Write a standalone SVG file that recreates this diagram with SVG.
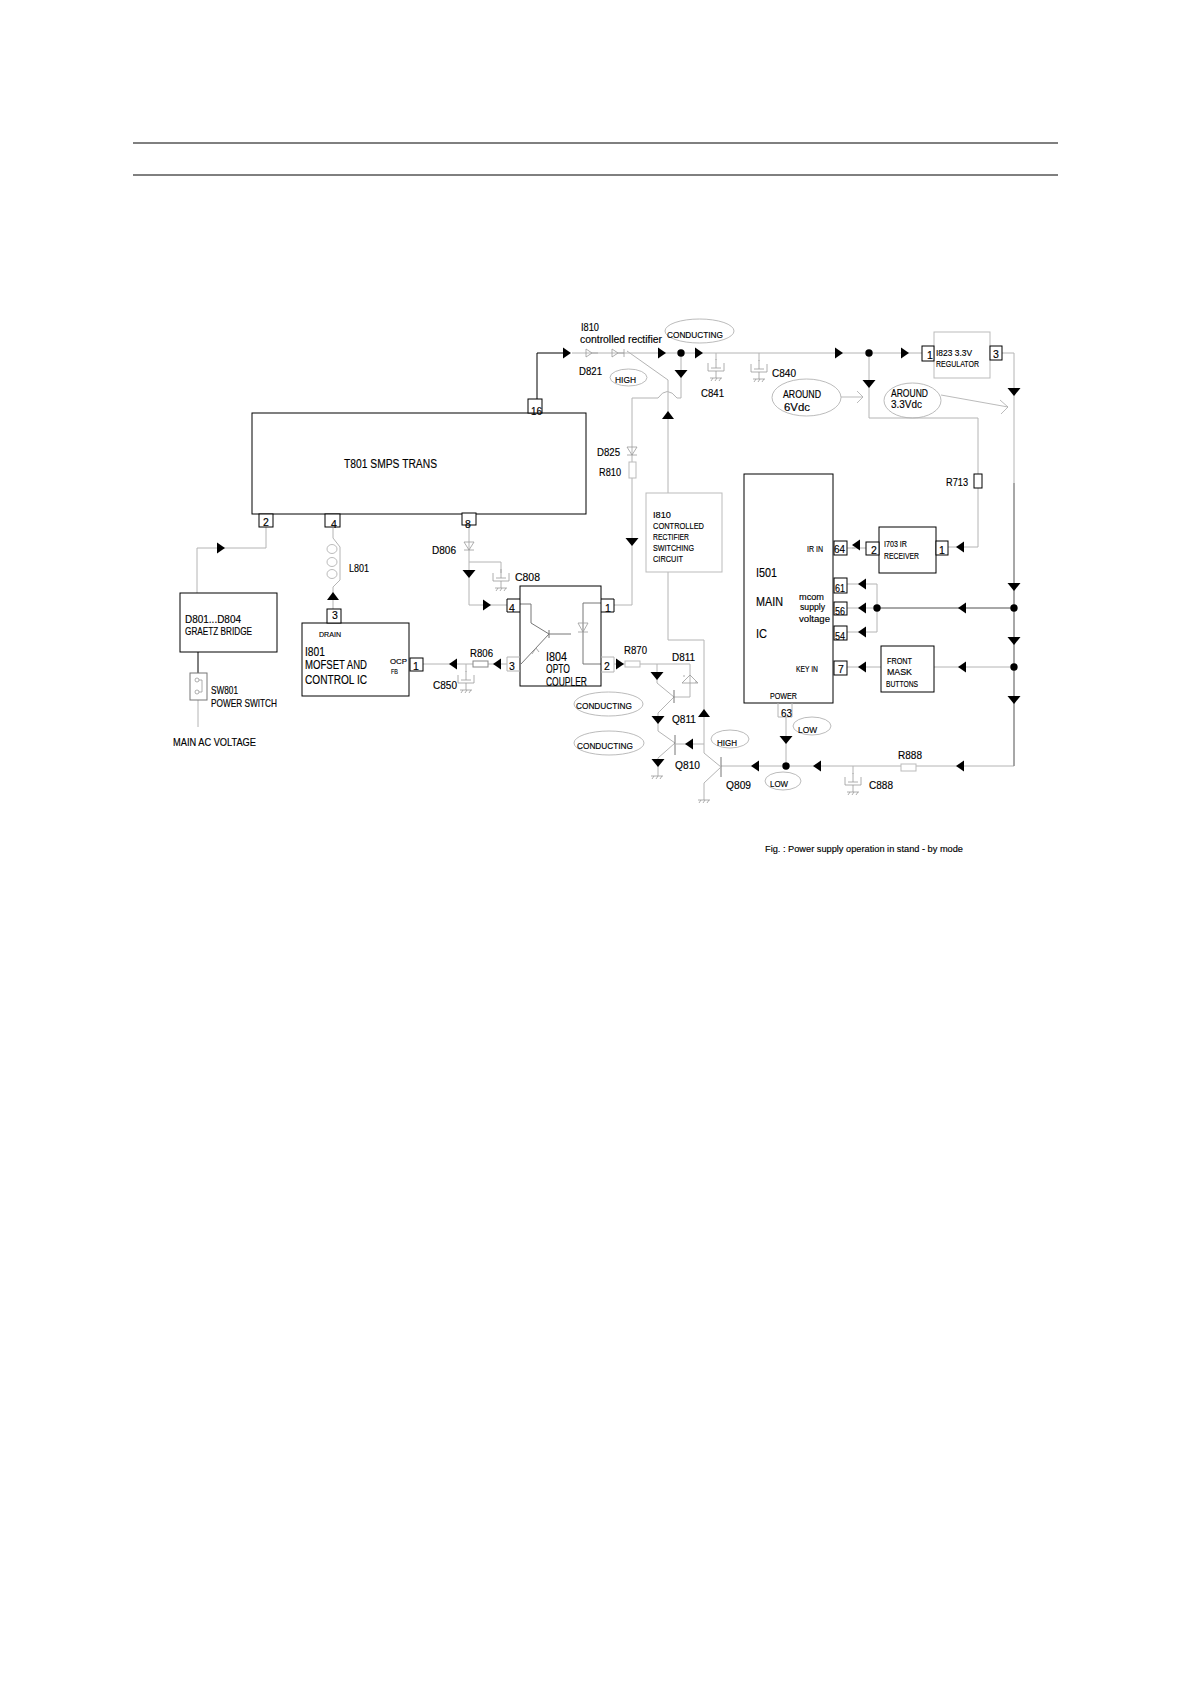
<svg xmlns="http://www.w3.org/2000/svg" xmlns:xlink="http://www.w3.org/1999/xlink" width="1188" height="1684" viewBox="0 0 1188 1684">
<style>
text{font-family:"Liberation Sans",Arial,sans-serif;fill:#000;font-size:10.500px;stroke:#000;stroke-width:.15}
.s{font-size:8px}.m{font-size:9.500px}.l{font-size:12.500px}
.b{fill:#fff;stroke:#000;stroke-width:1}
.g{fill:#fff;stroke:#bbb;stroke-width:1}
.e{fill:none;stroke:#aaa;stroke-width:.8}
.w{fill:none;stroke:#b4b4b4;stroke-width:1}
.k{fill:none;stroke:#777;stroke-width:1}
.f{fill:none;stroke:#000;stroke-width:1}
.h{fill:none;stroke:#999;stroke-width:.8}
</style>
<defs>
<polygon id="r" points="-4,-5.500 4,0 -4,5.500" fill="#000"/>
<polygon id="l" points="4,-5.500 -4,0 4,5.500" fill="#000"/>
<polygon id="d" points="-6.500,-4 6.500,-4 0,4" fill="#000"/>
<polygon id="u" points="-6,4 6,4 0,-4" fill="#000"/>
<circle id="o" r="3.700" fill="#000"/>
<g id="gnd"><path class="h" d="M-6,0H6M-5,3L-3,0M-1,3L1,0M3,3L5,0"/></g>
<g id="cap"><path class="h" d="M-8,-4V4H8V-4M-5,1H5M0,-8V1M0,4V11"/><use xlink:href="#gnd" y="11"/></g>
</defs>
<g id="rules"><path class="f" d="M133,143H1058M133,175H1058"/></g>
<g id="connectors">
<path class="f" d="M537,399V353H564"/>
<path class="w" d="M572,353H1002M266,527V548H197V593"/>
<path class="f" d="M198,652V673"/>
<path class="w" d="M198,700V727"/>
<path class="w" d="M333,528V538L340,547V580L333,587V609"/>
<ellipse class="e" cx="332" cy="549" rx="5" ry="4.500"/><ellipse class="e" cx="332" cy="562" rx="5" ry="4.500"/><ellipse class="e" cx="332" cy="574" rx="5" ry="4.500"/>
<path class="w" d="M469,525V605H507M469,562H501V573M423,664H473M488,664H507"/>
<path class="w" d="M614,605H632V398H658Q667,385 677,398H681V353M668,493V380L627,351M869,353V418H978V547H948M1002,353H1014V766H916M901,766H721"/>
<path class="w" d="M716,353V360M759,353V361M853,766V774M466,664V672M786,717V766M866,548H852M847,548H855M847,584H877V632H847M847,608H1014M847,667H881M934,667H1014"/>
<path class="k" d="M1014,483V766M877,608H1014"/>
<path class="e" d="M841,397H863M857,391L863,397L857,403M941,395L1008,407M1000,400L1008,407L1001,414"/>
<path class="w" d="M614,664H625M640,664H657H690V697H674M657,664V683L674,697L658,713V731L675,743L658,758V776"/>
<path class="k" d="M674,690V703M675,735V755M721,757V777"/>
<path class="w" d="M668,572V640H704V753L721,767L704,783V800M704,744H675"/>
<path class="h" d="M682,683H698L690,675ZM684,675V677M696,683V681"/>
<path class="h" d="M624,353H618L612,349V357L618,353M624,349V357M598,353H592M586,349V357L592,353L586,349"/>
<path class="h" d="M464,542H474L469,550ZM464,550H474M627,447H637L632,455ZM627,455H637"/>
<path class="k" d="M531,604V623L549,634M520,604H531M549,630V638M549,634H571M549,634L521,664M601,603H583V664H601"/>
<path class="h" d="M578,623H588L583,632ZM578,632H588M532,654L536,648L539,652"/>
</g>
<g id="caps">
<use xlink:href="#cap" x="716" y="367"/><use xlink:href="#cap" x="759" y="368"/><use xlink:href="#cap" x="501" y="577"/><use xlink:href="#cap" x="466" y="679"/><use xlink:href="#cap" x="853" y="781"/>
<use xlink:href="#gnd" x="657" y="776"/><use xlink:href="#gnd" x="704" y="800"/>
</g>
<g id="T801"><rect class="b" x="252" y="413" width="334" height="101"/><text x="344" y="468" class="l" textLength="93" lengthAdjust="spacingAndGlyphs">T801 SMPS TRANS</text></g>
<g id="pins-T801"><rect class="b" x="528" y="399" width="14" height="14"/><text x="531" y="415" textLength="11" lengthAdjust="spacingAndGlyphs">16</text><rect class="b" x="259" y="514" width="14" height="13"/><text x="263" y="526">2</text><rect class="b" x="325" y="514" width="15" height="13"/><text x="331" y="528">4</text><rect class="b" x="462" y="513" width="14" height="12"/><text x="465" y="528">8</text></g>
<g id="D801"><rect class="b" x="180" y="593" width="97" height="59"/><text x="185" y="623" textLength="56" lengthAdjust="spacingAndGlyphs">D801...D804</text><text x="185" y="635" textLength="67" lengthAdjust="spacingAndGlyphs">GRAETZ BRIDGE</text></g>
<g id="SW801"><rect x="190" y="673" width="17" height="27" fill="#fff" stroke="#777"/><circle class="h" cx="197" cy="680" r="2"/><circle class="h" cx="197" cy="692" r="2"/><path class="h" d="M199,680H202V692H199"/><text x="211" y="694" textLength="27" lengthAdjust="spacingAndGlyphs">SW801</text><text x="211" y="707" textLength="66" lengthAdjust="spacingAndGlyphs">POWER SWITCH</text></g>
<g id="I801"><rect class="b" x="302" y="623" width="107" height="73"/><rect class="b" x="327" y="609" width="14" height="14"/><text x="332" y="619">3</text><rect class="b" x="410" y="658" width="13" height="13"/><text x="413" y="670">1</text><text x="319" y="637" class="s" textLength="22" lengthAdjust="spacingAndGlyphs">DRAIN</text><text x="305" y="656" class="l" textLength="20" lengthAdjust="spacingAndGlyphs">I801</text><text x="305" y="669" class="l" textLength="62" lengthAdjust="spacingAndGlyphs">MOFSET AND</text><text x="305" y="684" class="l" textLength="62" lengthAdjust="spacingAndGlyphs">CONTROL IC</text><text x="390" y="664" class="s" textLength="17" lengthAdjust="spacingAndGlyphs">OCP</text><text x="391" y="674" class="s" textLength="7" lengthAdjust="spacingAndGlyphs">FB</text></g>
<g id="I804"><rect x="520" y="586" width="81" height="100" fill="none" stroke="#000"/><path class="w" d="M507,657H520M507,671H520M507,657V671M601,657H614V672H601"/><path class="f" d="M520,599H507V612H520M601,599H614V612H601"/><text x="509" y="612">4</text><text x="605" y="612">1</text><text x="509" y="670">3</text><text x="604" y="670">2</text><text x="546" y="661" class="l" textLength="21" lengthAdjust="spacingAndGlyphs">I804</text><text x="546" y="673" class="l" textLength="24" lengthAdjust="spacingAndGlyphs">OPTO</text><text x="546" y="686" class="l" textLength="41" lengthAdjust="spacingAndGlyphs">COUPLER</text></g>
<g id="I810box"><rect class="g" x="646" y="493" width="76" height="79"/><text x="653" y="518" class="m" textLength="18" lengthAdjust="spacingAndGlyphs">I810</text><text x="653" y="529" class="m" textLength="51" lengthAdjust="spacingAndGlyphs">CONTROLLED</text><text x="653" y="540" class="m" textLength="36" lengthAdjust="spacingAndGlyphs">RECTIFIER</text><text x="653" y="551" class="m" textLength="41" lengthAdjust="spacingAndGlyphs">SWITCHING</text><text x="653" y="562" class="m" textLength="30" lengthAdjust="spacingAndGlyphs">CIRCUIT</text></g>
<g id="I501"><rect class="b" x="744" y="474" width="89" height="229"/><text x="756" y="577" class="l" textLength="21" lengthAdjust="spacingAndGlyphs">I501</text><text x="756" y="606" class="l" textLength="27" lengthAdjust="spacingAndGlyphs">MAIN</text><text x="756" y="638" class="l" textLength="11" lengthAdjust="spacingAndGlyphs">IC</text><text x="807" y="552" class="m" textLength="16" lengthAdjust="spacingAndGlyphs">IR IN</text><text x="799" y="600" class="m" textLength="25" lengthAdjust="spacingAndGlyphs">mcom</text><text x="800" y="610" class="m" textLength="25" lengthAdjust="spacingAndGlyphs">supply</text><text x="799" y="622" class="m" textLength="31" lengthAdjust="spacingAndGlyphs">voltage</text><text x="796" y="672" class="m" textLength="22" lengthAdjust="spacingAndGlyphs">KEY IN</text><text x="770" y="699" class="m" textLength="27" lengthAdjust="spacingAndGlyphs">POWER</text>
<rect class="b" x="834" y="541" width="13" height="14"/><text x="834" y="553" textLength="11" lengthAdjust="spacingAndGlyphs">64</text><rect class="b" x="834" y="578" width="13" height="15"/><text x="835" y="592" textLength="10" lengthAdjust="spacingAndGlyphs">61</text><rect class="b" x="834" y="602" width="13" height="13"/><text x="835" y="615" textLength="10" lengthAdjust="spacingAndGlyphs">56</text><rect class="b" x="834" y="626" width="13" height="14"/><text x="835" y="640" textLength="10" lengthAdjust="spacingAndGlyphs">54</text><rect class="b" x="834" y="661" width="13" height="14"/><text x="838" y="673">7</text><path class="w" d="M778,703V717H792V703"/><text x="781" y="717" textLength="11" lengthAdjust="spacingAndGlyphs">63</text></g>
<g id="I703"><rect class="b" x="879" y="527" width="57" height="46"/><rect class="b" x="866" y="542" width="13" height="13"/><text x="871" y="554">2</text><rect class="b" x="936" y="541" width="12" height="14"/><text x="939" y="554">1</text><text x="884" y="547" class="m" textLength="23" lengthAdjust="spacingAndGlyphs">I703 IR</text><text x="884" y="559" class="m" textLength="35" lengthAdjust="spacingAndGlyphs">RECEIVER</text></g>
<g id="I823"><rect class="g" x="934" y="332" width="56" height="46"/><rect class="b" x="922" y="346" width="12" height="15"/><text x="927" y="359">1</text><rect class="b" x="990" y="346" width="12" height="14"/><text x="993" y="358">3</text><text x="936" y="356" class="m" textLength="36" lengthAdjust="spacingAndGlyphs">I823 3.3V</text><text x="936" y="367" class="m" textLength="43" lengthAdjust="spacingAndGlyphs">REGULATOR</text></g>
<g id="FRONT"><rect class="b" x="881" y="646" width="53" height="46"/><text x="887" y="664" class="m" textLength="25" lengthAdjust="spacingAndGlyphs">FRONT</text><text x="887" y="675" class="m" textLength="25" lengthAdjust="spacingAndGlyphs">MASK</text><text x="886" y="687" class="m" textLength="32" lengthAdjust="spacingAndGlyphs">BUTTONS</text></g>
<g id="resistors"><rect x="473" y="661" width="15" height="6" fill="#fff" stroke="#888"/><rect class="g" x="625" y="661" width="15" height="6"/><rect class="g" x="901" y="764" width="15" height="7"/><rect class="g" x="629" y="462" width="7" height="16"/><rect class="b" x="974" y="474" width="8" height="14"/></g>
<g id="arrows">
<use xlink:href="#r" x="567" y="353"/><use xlink:href="#r" x="662" y="353"/><use xlink:href="#o" x="681" y="353"/><use xlink:href="#r" x="699" y="353"/><use xlink:href="#r" x="839" y="353"/><use xlink:href="#o" x="869" y="353"/><use xlink:href="#r" x="905" y="353"/>
<use xlink:href="#r" x="221" y="548"/><use xlink:href="#u" x="333" y="596"/><use xlink:href="#d" x="469" y="574"/><use xlink:href="#r" x="487" y="605"/>
<use xlink:href="#l" x="497" y="664"/><use xlink:href="#l" x="453" y="664"/><use xlink:href="#r" x="620" y="664"/><use xlink:href="#d" x="657" y="676"/><use xlink:href="#d" x="658" y="720"/><use xlink:href="#d" x="658" y="763"/><use xlink:href="#l" x="689" y="744"/><use xlink:href="#u" x="704" y="713"/>
<use xlink:href="#d" x="632" y="542"/><use xlink:href="#d" x="681" y="374"/><use xlink:href="#u" x="668" y="415"/><use xlink:href="#d" x="869" y="384"/>
<use xlink:href="#d" x="1014" y="392"/><use xlink:href="#d" x="1014" y="587"/><use xlink:href="#o" x="1014" y="608"/><use xlink:href="#d" x="1014" y="641"/><use xlink:href="#o" x="1014" y="667"/><use xlink:href="#d" x="1014" y="700"/>
<use xlink:href="#l" x="960" y="547"/><use xlink:href="#l" x="856" y="545"/><use xlink:href="#l" x="862" y="584"/><use xlink:href="#l" x="862" y="608"/><use xlink:href="#o" x="877" y="608"/><use xlink:href="#l" x="862" y="632"/><use xlink:href="#l" x="862" y="667"/><use xlink:href="#l" x="962" y="608"/><use xlink:href="#l" x="962" y="667"/>
<use xlink:href="#l" x="960" y="766"/><use xlink:href="#l" x="817" y="766"/><use xlink:href="#o" x="786" y="766"/><use xlink:href="#l" x="755" y="766"/><use xlink:href="#d" x="786" y="740"/>
</g>
<g id="states">
<ellipse class="e" cx="699.500" cy="331" rx="34.500" ry="12"/><text x="667" y="338" class="m" textLength="56" lengthAdjust="spacingAndGlyphs">CONDUCTING</text>
<ellipse class="e" cx="628.500" cy="377.500" rx="18.500" ry="8.500"/><text x="615" y="383" class="m" textLength="21" lengthAdjust="spacingAndGlyphs">HIGH</text>
<ellipse class="e" cx="806.500" cy="397.500" rx="34.500" ry="18.500"/><text x="783" y="398" textLength="38" lengthAdjust="spacingAndGlyphs">AROUND</text><text x="784" y="411" textLength="26" lengthAdjust="spacingAndGlyphs">6Vdc</text>
<ellipse class="e" cx="912.500" cy="400.500" rx="28.500" ry="17.500"/><text x="891" y="397" textLength="37" lengthAdjust="spacingAndGlyphs">AROUND</text><text x="891" y="408" textLength="31" lengthAdjust="spacingAndGlyphs">3.3Vdc</text>
<ellipse class="e" cx="608.500" cy="704" rx="34.500" ry="12"/><text x="576" y="709" class="m" textLength="56" lengthAdjust="spacingAndGlyphs">CONDUCTING</text>
<ellipse class="e" cx="609" cy="743" rx="35" ry="12"/><text x="577" y="749" class="m" textLength="56" lengthAdjust="spacingAndGlyphs">CONDUCTING</text>
<ellipse class="e" cx="730" cy="739" rx="19" ry="9"/><text x="717" y="746" class="m" textLength="20" lengthAdjust="spacingAndGlyphs">HIGH</text>
<ellipse class="e" cx="812" cy="726" rx="19" ry="9"/><text x="798" y="733" class="m" textLength="19" lengthAdjust="spacingAndGlyphs">LOW</text>
<ellipse class="e" cx="783" cy="781" rx="18" ry="9"/><text x="770" y="787" class="m" textLength="18" lengthAdjust="spacingAndGlyphs">LOW</text>
</g>
<g id="labels">
<text x="581" y="331" textLength="18" lengthAdjust="spacingAndGlyphs">I810</text><text x="580" y="343" textLength="82" lengthAdjust="spacingAndGlyphs">controlled rectifier</text><text x="579" y="375" textLength="23" lengthAdjust="spacingAndGlyphs">D821</text><text x="701" y="397" textLength="23" lengthAdjust="spacingAndGlyphs">C841</text><text x="772" y="377" textLength="24" lengthAdjust="spacingAndGlyphs">C840</text><text x="597" y="456" textLength="23" lengthAdjust="spacingAndGlyphs">D825</text><text x="599" y="476" textLength="22" lengthAdjust="spacingAndGlyphs">R810</text><text x="946" y="486" textLength="22" lengthAdjust="spacingAndGlyphs">R713</text><text x="432" y="554" textLength="24" lengthAdjust="spacingAndGlyphs">D806</text><text x="349" y="572" textLength="20" lengthAdjust="spacingAndGlyphs">L801</text><text x="515" y="581" textLength="25" lengthAdjust="spacingAndGlyphs">C808</text><text x="433" y="689" textLength="24" lengthAdjust="spacingAndGlyphs">C850</text><text x="470" y="657" textLength="23" lengthAdjust="spacingAndGlyphs">R806</text><text x="624" y="654" textLength="23" lengthAdjust="spacingAndGlyphs">R870</text><text x="672" y="661" textLength="23" lengthAdjust="spacingAndGlyphs">D811</text><text x="672" y="723" textLength="24" lengthAdjust="spacingAndGlyphs">Q811</text><text x="675" y="769" textLength="25" lengthAdjust="spacingAndGlyphs">Q810</text><text x="726" y="789" textLength="25" lengthAdjust="spacingAndGlyphs">Q809</text><text x="898" y="759" textLength="24" lengthAdjust="spacingAndGlyphs">R888</text><text x="869" y="789" textLength="24" lengthAdjust="spacingAndGlyphs">C888</text><text x="173" y="746" textLength="83" lengthAdjust="spacingAndGlyphs">MAIN AC VOLTAGE</text><text x="765" y="852" class="m" textLength="198" lengthAdjust="spacingAndGlyphs">Fig. : Power  supply operation in stand - by mode</text>
</g>
</svg>
